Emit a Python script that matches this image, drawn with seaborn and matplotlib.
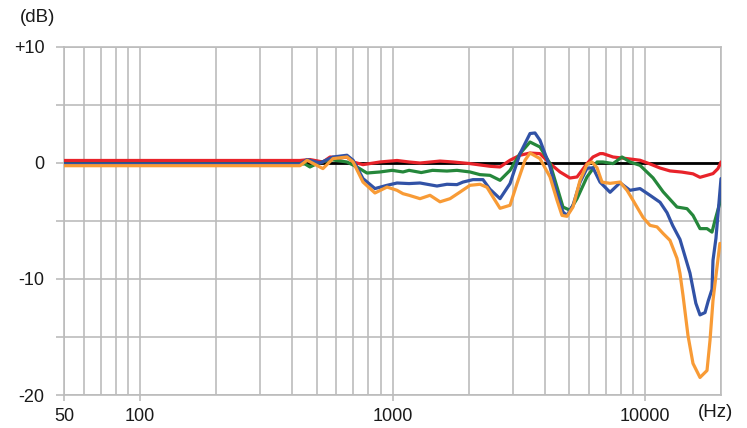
import numpy as np
import pandas as pd
import matplotlib
matplotlib.use("Agg")
import matplotlib.pyplot as plt
from matplotlib.ticker import FixedLocator, NullFormatter
import seaborn as sns

# frequency response curves (Hz, dB)
ref_hz = [50, 20000]
ref_db = [0, 0]

red_hz = [50, 430, 471, 530, 566, 620, 660, 698, 764, 892, 1042, 1163, 1285, 1542, 1736, 2027,
          2433, 2666, 2920, 3198, 3504, 3838, 4206, 4607, 5046, 5380, 5892, 6223, 6635, 6819,
          7472, 8487, 9556, 10468, 11471, 12559, 14000, 15490, 16513, 17603, 18592, 19457, 20000]
red_db = [0.2, 0.2, 0.28, 0.07, 0.5, 0.41, 0.5, 0.07, -0.16, 0.07, 0.2, 0.07, -0.02, 0.15, 0.07,
          -0.07, -0.3, -0.36, 0.22, 0.65, 0.84, 0.79, -0.07, -0.79, -1.31, -1.22, -0.07, 0.5, 0.79,
          0.79, 0.5, 0.36, 0.22, -0.1, -0.45, -0.7, -0.8, -0.95, -1.25, -1.08, -0.93, -0.5, 0.07]

green_hz = [50, 430, 450, 471, 502, 566, 660, 723, 792, 892, 996, 1100, 1163, 1300, 1440, 1643,
            1800, 2027, 2221, 2433, 2666, 2920, 3198, 3504, 3838, 4206, 4483, 4733, 5046, 5380,
            5892, 6223, 6457, 6819, 7472, 8109, 8722, 9556, 10760, 11800, 13387, 14666, 15490,
            16513, 17603, 18424, 18933, 20000]
green_db = [-0.1, -0.1, -0.1, -0.36, -0.07, 0.28, 0.07, -0.36, -0.88, -0.79, -0.65, -0.79, -0.65,
            -0.84, -0.65, -0.71, -0.65, -0.79, -1.02, -1.08, -1.51, -0.65, 0.79, 1.79, 1.36, -0.07,
            -2.09, -3.81, -4.09, -3.09, -1.22, -0.5, 0.07, 0.07, -0.07, 0.5, 0.07, -0.22, -1.3,
            -2.5, -3.81, -3.95, -4.53, -5.67, -5.67, -5.97, -4.96, -3.09]

blue_hz = [50, 430, 459, 516, 581, 660, 698, 764, 852, 951, 1042, 1163, 1285, 1500, 1643, 1800,
           1902, 2083, 2282, 2433, 2666, 2920, 3198, 3504, 3667, 3838, 4206, 4483, 4733, 4910,
           5185, 5529, 5892, 6223, 6635, 7271, 7962, 8722, 9556, 10468, 11471, 12227, 12870,
           13760, 15071, 15900, 16513, 17287, 17800, 18424, 18592, 19100, 20000]
blue_db = [-0.1, -0.1, 0.28, -0.02, 0.5, 0.65, 0.22, -1.36, -2.22, -1.94, -1.74, -1.79, -1.74,
           -2.0, -1.85, -1.88, -1.66, -1.45, -1.45, -2.28, -3.09, -1.79, 0.79, 2.52, 2.57, 1.94,
           -0.36, -2.66, -4.24, -4.53, -3.66, -1.68, -0.47, -0.43, -1.66, -2.54, -1.72, -2.37,
           -2.22, -2.8, -3.4, -4.3, -5.4, -6.6, -9.5, -12.1, -13.1, -12.9, -11.9, -10.9, -8.4,
           -6.5, -1.36]

orange_hz = [50, 430, 459, 530, 581, 660, 698, 764, 852, 951, 1042, 1100, 1163, 1285, 1408, 1542,
             1690, 1851, 2027, 2221, 2367, 2500, 2666, 2920, 3112, 3348, 3504, 3838, 4206, 4483,
             4691, 4910, 5185, 5529, 5892, 6166, 6457, 6757, 7271, 7962, 8487, 8965, 9822, 10468,
             11158, 11785, 12559, 13387, 13760, 14143, 14799, 15490, 16513, 17603, 18091, 18592,
             19281, 19800]
orange_db = [-0.25, -0.25, 0.22, -0.5, 0.36, 0.5, 0.07, -1.66, -2.6, -2.09, -2.37, -2.66, -2.8,
             -3.09, -2.8, -3.36, -3.09, -2.52, -1.94, -1.85, -2.11, -2.95, -3.92, -3.66, -1.79,
             0.22, 0.84, 0.36, -1.22, -3.23, -4.53, -4.61, -3.81, -1.51, -0.13, 0.07, -0.43,
             -1.66, -1.77, -1.66, -2.37, -3.23, -4.7, -5.39, -5.52, -6.08, -6.68, -8.23, -9.53,
             -11.42, -14.87, -17.28, -18.49, -17.89, -15.3, -11.85, -9.0, -6.94]

series = {"ref": (ref_hz, ref_db), "red": (red_hz, red_db), "green": (green_hz, green_db),
          "blue": (blue_hz, blue_db), "orange": (orange_hz, orange_db)}
palette = {"ref": "#000000", "red": "#e8232a", "green": "#25873b",
           "blue": "#3152a6", "orange": "#f89b36"}

rows = []
for name, (hz, db) in series.items():
    for f, v in zip(hz, db):
        rows.append((name, f, v))
df = pd.DataFrame(rows, columns=["curve", "hz", "db"])

sns.set_style("white")
plt.rcParams["font.family"] = ["Liberation Sans", "DejaVu Sans"]

fig = plt.figure(figsize=(7.47, 4.28), dpi=100)
ax = fig.add_axes([0.0857, 0.0771, 0.8795, 0.8138])

for name in series:
    sub = df[df["curve"] == name]
    sns.lineplot(data=sub, x="hz", y="db", color=palette[name], estimator=None, sort=False,
                 linewidth=2.0 if name == "ref" else 2.3, ax=ax, legend=False, zorder=3)

ax.set_xscale("log")
ax.set_xlim(50, 20000)
ax.set_ylim(-20, 10)

grid_c = "#bcbcbc"
minor_x = [m * d for d in (10, 100, 1000, 10000) for m in range(1, 10)]
minor_x = [v for v in minor_x if 50 <= v <= 20000 and v not in (50, 100, 1000, 10000)]
ax.xaxis.set_major_locator(FixedLocator([50, 100, 1000, 10000]))
ax.xaxis.set_minor_locator(FixedLocator(minor_x))
ax.xaxis.set_minor_formatter(NullFormatter())
ax.set_xticklabels(["50", "100", "1000", "10000"])
ax.yaxis.set_major_locator(FixedLocator([-20, -15, -10, -5, 0, 5, 10]))
ax.set_yticklabels(["-20", "", "-10", "", "0", "", "+10"])

ax.grid(True, which="both", axis="x", color=grid_c, linewidth=1.2, zorder=0)
ax.grid(True, which="major", axis="y", color=grid_c, linewidth=1.2, zorder=0)
ax.set_axisbelow(True)
for s in ax.spines.values():
    s.set_color(grid_c)
    s.set_linewidth(1.2)

ax.tick_params(axis="y", which="major", length=6, width=1.2, color=grid_c, pad=8,
               labelsize=13, labelcolor="#1a1a1a", left=True)
ax.tick_params(axis="x", which="major", length=4, width=1.2, color=grid_c, pad=5,
               labelsize=13, labelcolor="#1a1a1a", bottom=True)
ax.tick_params(axis="x", which="minor", length=0)

ax.set_xlabel("")
ax.set_ylabel("")
fig.text(0.050, 0.958, "(dB)", fontsize=13.5, color="#1a1a1a", ha="center", va="center")
fig.text(0.958, 0.037, "(Hz)", fontsize=13.5, color="#1a1a1a", ha="center", va="center")

fig.savefig("out.png", dpi=100)
